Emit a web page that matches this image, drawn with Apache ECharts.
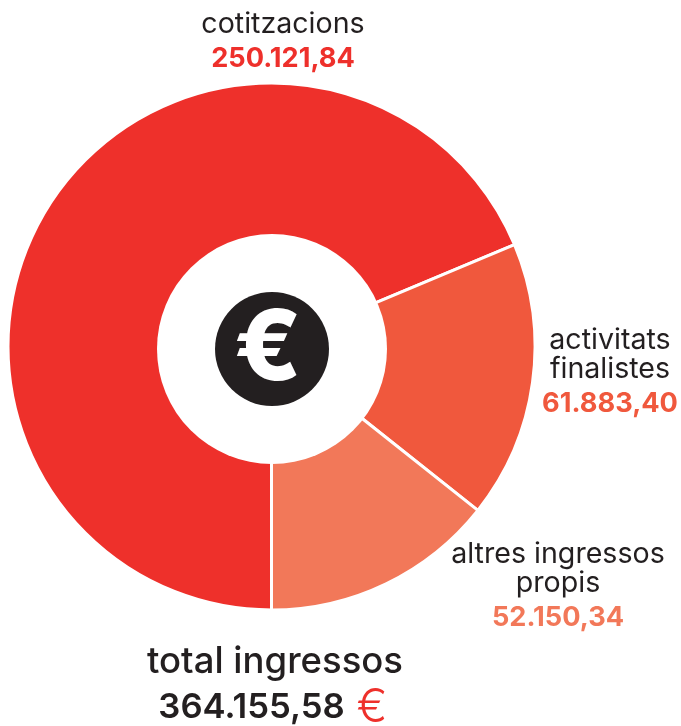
<!DOCTYPE html>
<html><head><meta charset="utf-8">
<style>html,body{margin:0;padding:0;background:#fff}#c{width:681px;height:726px}</style>
<script src="https://cdn.jsdelivr.net/npm/echarts@6/dist/echarts.min.js"></script>
</head><body><div id="c"></div>
<script>
const categories = ['cotitzacions', 'activitats\nfinalistes', 'altres ingressos\npropis'];
const values = [250121.84, 61883.40, 52150.34];
const valueLabels = ['250.121,84', '61.883,40', '52.150,34'];
const colors = ['#EE302B', '#F0583D', '#F27859'];
const labelSpots = [[283, 24], [610, 340], [558, 554]];
const totalTitle = 'total ingressos';
const totalValue = '364.155,58';
const F = 'Inter, "Open Sans", sans-serif';
const labelGraphics = [];
categories.forEach((n, i) => {
  const lines = n.split('\n');
  lines.forEach((t, k) => labelGraphics.push({
    type: 'text', z: 102, x: labelSpots[i][0], y: labelSpots[i][1] + k * 29,
    style: {text: t, fill: '#231F20', font: '400 28.6px ' + F, align: 'center', verticalAlign: 'middle'}
  }));
  labelGraphics.push({
    type: 'text', z: 102, x: labelSpots[i][0], y: labelSpots[i][1] + lines.length * 29 + 6,
    style: {text: valueLabels[i], fill: colors[i], font: '700 27.2px ' + F, align: 'center', verticalAlign: 'middle'}
  });
});
const chart = echarts.init(document.getElementById('c'), null, {renderer: 'canvas'});
chart.setOption({
  animation: false,
  series: [{
    type: 'pie', center: [271.5, 346.5], radius: [90, 263.5],
    startAngle: 270, clockwise: true, avoidLabelOverlap: false, silent: true,
    itemStyle: {borderColor: '#fff', borderWidth: 3},
    label: {show: false}, labelLine: {show: false},
    data: categories.map((n, i) => ({name: n, value: values[i], itemStyle: {color: colors[i]}}))
  }],
  graphic: [
    {type: 'circle', z: 100, shape: {cx: 272, cy: 349, r: 115}, style: {fill: '#fff'}},
    {type: 'circle', z: 101, shape: {cx: 272, cy: 349, r: 57}, style: {fill: '#231F20'}},
    {type: 'text', z: 102, x: 268, y: 351, style: {text: '€', fill: '#fff', font: '800 98px ' + F, align: 'center', verticalAlign: 'middle'}},
    {type: 'text', z: 102, x: 275, y: 662, style: {text: totalTitle, fill: '#231F20', font: '500 36.5px ' + F, align: 'center', verticalAlign: 'middle'}},
    {type: 'text', z: 102, x: 251.5, y: 708, style: {text: totalValue, fill: '#231F20', font: '600 34.7px ' + F, align: 'center', verticalAlign: 'middle'}},
    {type: 'text', z: 102, x: 372, y: 708, style: {text: '€', fill: '#EE302B', font: '300 46px ' + F, align: 'center', verticalAlign: 'middle'}}
  ].concat(labelGraphics)
});
</script></body></html>
